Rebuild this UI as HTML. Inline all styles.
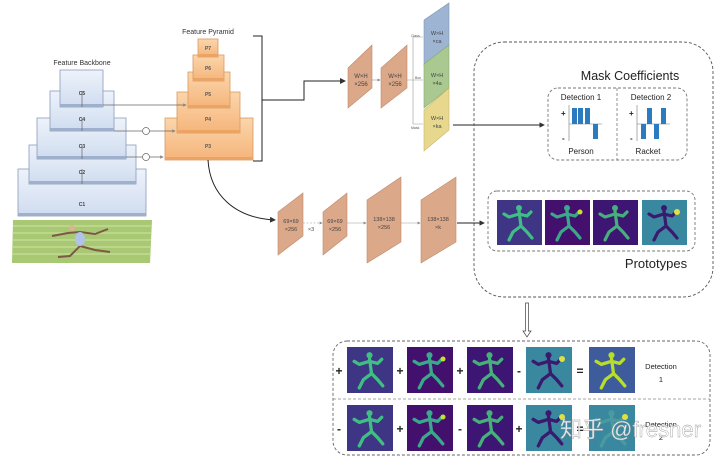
<!DOCTYPE html>
<html><head><meta charset="utf-8"><style>
html,body{margin:0;padding:0;background:#fff;}
svg{display:block;font-family:"Liberation Sans","Noto Sans CJK SC",sans-serif;}
</style></head><body>
<svg width="720" height="459" viewBox="0 0 720 459" xmlns="http://www.w3.org/2000/svg">
<defs>
<linearGradient id="bb" x1="0" y1="0" x2="0" y2="1"><stop offset="0" stop-color="#eef3fb"/><stop offset="1" stop-color="#cfdcef"/></linearGradient>
<linearGradient id="fp" x1="0" y1="0" x2="0" y2="1"><stop offset="0" stop-color="#fbd6ac"/><stop offset="1" stop-color="#f5b47a"/></linearGradient>
<marker id="ar" markerWidth="6" markerHeight="6" refX="5" refY="3" orient="auto"><path d="M0,0 L6,3 L0,6 z" fill="#333"/></marker>
<marker id="arg" markerWidth="5" markerHeight="5" refX="4" refY="2.5" orient="auto"><path d="M0,0 L5,2.5 L0,5 z" fill="#888"/></marker>
<symbol id="fig" viewBox="0 0 45 45">
<g fill="none" stroke-linecap="round" stroke-linejoin="round">
<circle cx="22" cy="8" r="3" stroke="none" fill="currentColor"/>
<path d="M22 11 L24 26 L16 32 L12 40 M24 26 L30 32 L35 38 M22 14 L12 17 L7 14 M22 14 L30 16 L34 12" stroke="currentColor" stroke-width="3.2"/>
</g>
</symbol>
</defs>

<!-- Backbone -->
<text x="82" y="65" font-size="7" text-anchor="middle" fill="#333">Feature Backbone</text>
<g stroke="#8a9cbc" stroke-width="0.8">
<rect x="18" y="169" width="128" height="47" fill="url(#bb)"/>
<rect x="29" y="145" width="107" height="39" fill="url(#bb)"/>
<rect x="37" y="118" width="89" height="41" fill="url(#bb)"/>
<rect x="50" y="91" width="64" height="40" fill="url(#bb)"/>
<rect x="60" y="70" width="43" height="37" fill="url(#bb)"/>
</g>
<g fill="#9fb0cc"><rect x="18" y="213" width="128" height="3"/><rect x="29" y="181" width="107" height="3"/><rect x="37" y="156" width="89" height="3"/><rect x="50" y="128" width="64" height="3"/><rect x="60" y="104" width="43" height="3"/></g>
<g font-size="5" fill="#444" text-anchor="middle" font-weight="bold">
<text x="82" y="95">C5</text><text x="82" y="121">C4</text><text x="82" y="148">C3</text><text x="82" y="174">C2</text><text x="82" y="206">C1</text></g>
<!-- tennis image -->
<polygon points="13,220 152,220 150,263 12,263" fill="#a9c873"/>
<g stroke="#c3dc94" stroke-width="1.5"><line x1="13" y1="226" x2="152" y2="226"/><line x1="13" y1="233" x2="151" y2="233"/><line x1="13" y1="240" x2="151" y2="240"/><line x1="12" y1="247" x2="151" y2="247"/><line x1="12" y1="254" x2="150" y2="254"/></g>
<path d="M52 236 L68 233 L80 232 L95 234 L108 229 M78 232 L80 246 L70 256 L58 257 M80 246 L95 250 L110 252" stroke="#7a5a44" stroke-width="2" fill="none"/>
<ellipse cx="80" cy="239" rx="5" ry="7" fill="#b0c4e8"/>
<circle cx="72" cy="228" r="3" fill="#d9b48c"/>

<!-- Feature pyramid -->
<text x="208" y="34" font-size="7" text-anchor="middle" fill="#333">Feature Pyramid</text>
<g stroke="#d99a5c" stroke-width="0.8" fill="url(#fp)">
<rect x="165" y="118" width="88" height="42"/>
<rect x="177" y="92" width="63" height="41"/>
<rect x="188" y="72" width="42" height="36"/>
<rect x="193" y="55" width="31" height="26"/>
<rect x="198" y="39" width="20" height="18"/>
</g>
<g fill="#eaa465"><rect x="165" y="157" width="88" height="3"/><rect x="177" y="130" width="63" height="3"/><rect x="188" y="105" width="42" height="3"/><rect x="193" y="78" width="31" height="3"/><rect x="198" y="54" width="20" height="3"/></g>
<g font-size="5" fill="#555" text-anchor="middle" font-weight="bold">
<text x="208" y="50">P7</text><text x="208" y="70">P6</text><text x="208" y="96">P5</text><text x="208" y="121">P4</text><text x="208" y="148">P3</text></g>
<g stroke="#666" stroke-width="0.7" fill="none">
<line x1="103" y1="105" x2="186" y2="105" marker-end="url(#arg)"/>
<line x1="114" y1="131" x2="175" y2="131" marker-end="url(#arg)"/>
<line x1="126" y1="157" x2="163" y2="157" marker-end="url(#arg)"/>
<circle cx="146" cy="131" r="3.5" fill="#fff"/><circle cx="146" cy="157" r="3.5" fill="#fff"/>
<line x1="82" y1="107" x2="82" y2="91"/><line x1="82" y1="131" x2="82" y2="118"/><line x1="82" y1="159" x2="82" y2="145"/><line x1="82" y1="184" x2="82" y2="169"/>
</g>
<path d="M253 36 L262 36 L262 161 L253 161 M262 100 L304 100 L304 81 L345 81" stroke="#222" stroke-width="1" fill="none" marker-end="url(#ar)"/>
<path d="M208 160 C210 195 235 218 275 220" stroke="#222" stroke-width="1" fill="none" marker-end="url(#ar)"/>

<!-- Head blocks -->
<g stroke="#c08a6c" stroke-width="0.6" fill="#dba88a">
<polygon points="348,68 372,45 372,88 348,108"/>
<polygon points="381,68 407,45 407,88 381,108"/>
</g>
<line x1="372" y1="80" x2="380" y2="80" stroke="#999" stroke-width="0.6" marker-end="url(#arg)"/>
<g font-size="6" fill="#444" text-anchor="middle"><text x="361" y="78">W×H</text><text x="361" y="86">×256</text><text x="395" y="78">W×H</text><text x="395" y="86">×256</text></g>
<polygon points="424,20 449,3 449,45 424,65" fill="#9db4d2" stroke="#7f97b8" stroke-width="0.6"/>
<polygon points="424,64 449,45 449,88 424,108" fill="#a9c991" stroke="#88a872" stroke-width="0.6"/>
<polygon points="424,110 449,88 449,130 424,151" fill="#e8d88e" stroke="#c8b56a" stroke-width="0.6"/>
<g font-size="5.5" fill="#444" text-anchor="middle"><text x="437" y="35">W×H</text><text x="437" y="43">×ca</text><text x="437" y="77">W×H</text><text x="437" y="85">×4a</text><text x="437" y="120">W×H</text><text x="437" y="128">×ka</text></g>
<path d="M407 80 L413 80 M413 37 L413 124 M413 37 L423 37 M413 80 L423 80 M413 124 L423 124" stroke="#999" stroke-width="0.6" fill="none"/>
<g font-size="3.5" fill="#555"><text x="411" y="37">Class</text><text x="415" y="79">Box</text><text x="411" y="129">Mask</text></g>
<line x1="453" y1="125" x2="544" y2="125" stroke="#222" stroke-width="0.9" marker-end="url(#ar)"/>

<!-- Big dashed box -->
<rect x="474" y="42" width="239" height="255" rx="30" fill="none" stroke="#555" stroke-width="0.9" stroke-dasharray="3,2"/>
<text x="630" y="80" font-size="12.5" text-anchor="middle" fill="#222">Mask Coefficients</text>
<rect x="548" y="88" width="139" height="72" rx="10" fill="none" stroke="#777" stroke-width="0.9" stroke-dasharray="3,2"/>
<line x1="617" y1="88" x2="617" y2="160" stroke="#777" stroke-width="0.8" stroke-dasharray="3,2"/>
<g font-size="8" fill="#222" text-anchor="middle"><text x="581" y="100">Detection 1</text><text x="651" y="100">Detection 2</text><text x="581" y="154">Person</text><text x="648" y="154">Racket</text></g>
<g stroke="#777" stroke-width="0.6"><line x1="569" y1="105" x2="569" y2="141"/><line x1="569" y1="124" x2="602" y2="124"/><line x1="637" y1="105" x2="637" y2="141"/><line x1="637" y1="124" x2="670" y2="124"/></g>
<g fill="#2b7bc0"><rect x="572" y="108" width="5" height="16"/><rect x="578" y="108" width="5" height="16"/><rect x="585" y="108" width="5" height="16"/><rect x="593" y="124" width="5" height="15"/>
<rect x="641" y="124" width="5" height="15"/><rect x="647" y="108" width="5" height="16"/><rect x="654" y="124" width="5" height="15"/><rect x="661" y="108" width="5" height="16"/></g>
<g font-size="8" fill="#222" font-weight="bold"><text x="561" y="116">+</text><text x="562" y="141">-</text><text x="629" y="116">+</text><text x="630" y="141">-</text></g>

<!-- Prototypes -->
<rect x="488" y="191" width="207" height="60" rx="9" fill="none" stroke="#777" stroke-width="0.9" stroke-dasharray="3,2"/>
<rect x="497" y="200" width="45" height="45" fill="#3f3585"/><use href="#fig" x="497" y="200" width="45" height="45" color="#3fbf83"/>
<rect x="545" y="200" width="45" height="45" fill="#44106e"/><use href="#fig" x="545" y="200" width="45" height="45" color="#3aa88a"/><circle cx="580" cy="212" r="2.5" fill="#c8e030"/>
<rect x="593" y="200" width="45" height="45" fill="#3d1572"/><use href="#fig" x="593" y="200" width="45" height="45" color="#45b07a"/>
<rect x="642" y="200" width="45" height="45" fill="#3a88a0"/><use href="#fig" x="642" y="200" width="45" height="45" color="#3a1a6e"/><circle cx="677" cy="212" r="3" fill="#e0e040"/>
<text x="656" y="268" font-size="13" text-anchor="middle" fill="#222">Prototypes</text>

<!-- Protonet -->
<g stroke="#c08a6c" stroke-width="0.6" fill="#dba88a">
<polygon points="278,212 303,193 303,236 278,255"/>
<polygon points="323,212 347,193 347,236 323,255"/>
<polygon points="367,200 401,177 401,242 367,263"/>
<polygon points="421,200 456,177 456,242 421,263"/>
</g>
<g font-size="5.5" fill="#444" text-anchor="middle">
<text x="291" y="223">69×69</text><text x="291" y="231">×256</text>
<text x="335" y="223">69×69</text><text x="335" y="231">×256</text>
<text x="384" y="221">138×138</text><text x="384" y="229">×256</text>
<text x="438" y="221">138×138</text><text x="438" y="229">×k</text>
<text x="311" y="231">×3</text></g>
<line x1="303" y1="223" x2="322" y2="223" stroke="#999" stroke-width="0.6" stroke-dasharray="2,1.5" marker-end="url(#arg)"/>
<line x1="347" y1="223" x2="366" y2="223" stroke="#999" stroke-width="0.6" marker-end="url(#arg)"/>
<line x1="401" y1="223" x2="420" y2="223" stroke="#999" stroke-width="0.6" marker-end="url(#arg)"/>
<line x1="457" y1="223" x2="484" y2="223" stroke="#222" stroke-width="0.9" marker-end="url(#ar)"/>

<!-- hollow down arrow -->
<path d="M525.5 303 L528.5 303 L528.5 331 L531 331 L527 337 L523 331 L525.5 331 Z" fill="#fff" stroke="#444" stroke-width="0.7"/>

<!-- Assembly -->
<rect x="333" y="341" width="377" height="114" rx="14" fill="none" stroke="#666" stroke-width="0.9" stroke-dasharray="3,2"/>
<line x1="333" y1="399" x2="710" y2="399" stroke="#888" stroke-width="0.8" stroke-dasharray="3,2"/>
<g id="r1">
<rect x="347" y="347" width="46" height="46" fill="#3f3585"/><use href="#fig" x="347" y="347" width="46" height="46" color="#3fbf83"/>
<rect x="407" y="347" width="46" height="46" fill="#44106e"/><use href="#fig" x="407" y="347" width="46" height="46" color="#3aa88a"/><circle cx="443" cy="359" r="2.5" fill="#c8e030"/>
<rect x="467" y="347" width="46" height="46" fill="#3d1572"/><use href="#fig" x="467" y="347" width="46" height="46" color="#45b07a"/>
<rect x="526" y="347" width="46" height="46" fill="#3a88a0"/><use href="#fig" x="526" y="347" width="46" height="46" color="#3a1a6e"/><circle cx="562" cy="359" r="3" fill="#e0e040"/>
</g>
<use href="#r1" y="58"/>
<rect x="589" y="347" width="46" height="46" fill="#3e5c9c"/><use href="#fig" x="589" y="347" width="46" height="46" color="#b8de2a"/>
<rect x="589" y="405" width="46" height="46" fill="#3a88a0"/><use href="#fig" x="589" y="405" width="46" height="46" color="#4a9aa0"/><circle cx="625" cy="417" r="3" fill="#e0e040"/>
<g font-size="12" font-weight="bold" fill="#222" text-anchor="middle">
<text x="339" y="375">+</text><text x="400" y="375">+</text><text x="460" y="375">+</text><text x="519" y="375">-</text><text x="580" y="375">=</text>
<text x="339" y="433">-</text><text x="400" y="433">+</text><text x="460" y="433">-</text><text x="519" y="433">+</text><text x="580" y="433">=</text></g>
<g font-size="7.5" fill="#222" text-anchor="middle"><text x="661" y="369">Detection</text><text x="661" y="382">1</text><text x="661" y="427">Detection</text><text x="661" y="440">2</text></g>

<!-- watermark -->
<text x="560" y="437" font-size="22" fill="#fff" fill-opacity="0.85" stroke="#999" stroke-width="0.4">知乎 @fresner</text>
</svg>
</body></html>
